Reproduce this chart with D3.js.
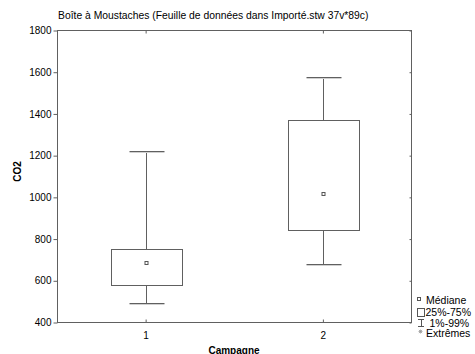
<!DOCTYPE html>
<html>
<head>
<meta charset="utf-8">
<script src="https://cdn.jsdelivr.net/npm/d3@7"></script>
<style>
  html, body { margin: 0; padding: 0; background: #fff; }
  svg { display: block; font-family: "Liberation Sans", Arial, sans-serif; }
</style>
</head>
<body>
<svg id="chart" width="475" height="354"></svg>
<script>
// Box plot summary per campaign
const campagnes = [1, 2];
const whiskerLow = [492, 679];
const q1 = [578, 842];
const medianes = [684, 1015];
const q3 = [751, 1369];
const whiskerHigh = [1221, 1578];
const yTicks = [400, 600, 800, 1000, 1200, 1400, 1600, 1800];

const titre = "Boîte à Moustaches (Feuille de données dans Importé.stw 37v*89c)";
const legendLabels = ["Médiane", "25%-75%", "1%-99%", "Extrêmes"];

const svg = d3.select("#chart");
const L = 57, R = 411.5, T = 30.5, B = 322.5;
const stroke = "#606060";

const x = d3.scaleLinear().domain([0.5, 2.5]).range([L, R]);
const y = d3.scaleLinear().domain([400, 1800]).range([B, T]);

// Title
svg.append("text").attr("x", 58).attr("y", 18.5)
  .attr("font-size", 10.35).attr("fill", "#000").text(titre);

// Frame
svg.append("rect").attr("x", L + 0.5).attr("y", T).attr("width", R - L - 0.5).attr("height", B - T)
  .attr("fill", "none").attr("stroke", stroke).attr("stroke-width", 1);

// Left axis (outward ticks)
const yAxis = d3.axisLeft(y).tickValues(yTicks).tickSize(4).tickPadding(2).tickFormat(d3.format("d"));
const gy = svg.append("g").attr("transform", `translate(${L + 0.5},0)`).call(yAxis);
gy.select(".domain").remove();
gy.selectAll("line").attr("stroke", stroke);
gy.selectAll("text").attr("font-size", 10).attr("fill", "#000")
  .attr("font-family", "Liberation Sans, Arial, sans-serif");

// Right axis (inward ticks)
const gyr = svg.append("g").attr("transform", `translate(${R},0)`)
  .call(d3.axisRight(y).tickValues(yTicks).tickSize(-2).tickFormat(""));
gyr.select(".domain").remove();
gyr.selectAll("line").attr("stroke", stroke);

// Bottom axis (inward ticks)
const xAxis = d3.axisBottom(x).tickValues(campagnes).tickSize(-3).tickPadding(9).tickFormat(d3.format("d"));
const gx = svg.append("g").attr("transform", `translate(0,${B})`).call(xAxis);
gx.select(".domain").remove();
gx.selectAll("line").attr("stroke", stroke);
gx.selectAll("text").attr("font-size", 10).attr("fill", "#000")
  .attr("font-family", "Liberation Sans, Arial, sans-serif");

// Top axis (inward ticks)
const gxt = svg.append("g").attr("transform", `translate(0,${T})`)
  .call(d3.axisTop(x).tickValues(campagnes).tickSize(-3).tickFormat(""));
gxt.select(".domain").remove();
gxt.selectAll("line").attr("stroke", stroke);

// Axis titles
svg.append("text").attr("transform", "translate(21,171.5) rotate(-90)")
  .attr("text-anchor", "middle").attr("font-size", 10).attr("font-weight", "bold").text("CO2");
svg.append("text").attr("x", 234).attr("y", 353.5)
  .attr("text-anchor", "middle").attr("font-size", 10).attr("font-weight", "bold").text("Campagne");

// Boxes
const unit = x(2) - x(1);
const boxW = unit * 0.4, capW = unit * 0.2;
const snap = v => Math.round(v) + 0.5;

campagnes.forEach((c, i) => {
  const cx = snap(x(c));
  const g = svg.append("g").attr("stroke", stroke).attr("fill", "none");
  // whisker stems
  g.append("line").attr("x1", cx).attr("x2", cx).attr("y1", snap(y(whiskerHigh[i]))).attr("y2", snap(y(q3[i])));
  g.append("line").attr("x1", cx).attr("x2", cx).attr("y1", snap(y(q1[i]))).attr("y2", snap(y(whiskerLow[i])));
  // caps
  [whiskerHigh[i], whiskerLow[i]].forEach(v => {
    g.append("line").attr("x1", snap(cx - capW / 2)).attr("x2", snap(cx + capW / 2))
      .attr("y1", snap(y(v))).attr("y2", snap(y(v)));
    g.append("line").attr("x1", snap(cx - capW / 2)).attr("x2", snap(cx + capW / 2))
      .attr("y1", snap(y(v)) + 1).attr("y2", snap(y(v)) + 1).attr("stroke", "#d0d0d0");
  });
  // box
  const top = snap(y(q3[i])), bot = snap(y(q1[i]));
  g.append("rect").attr("x", snap(cx - boxW / 2)).attr("y", top)
    .attr("width", Math.round(boxW)).attr("height", bot - top);
  // median marker
  const my = snap(y(medianes[i]));
  g.append("rect").attr("x", cx - 1.5).attr("y", my - 2).attr("width", 3).attr("height", 3)
    .attr("stroke", "#555").attr("fill", "#fff");
});

// Legend
const lg = svg.append("g").attr("font-size", 10.5).attr("fill", "#000");
const ys = [303.5, 316, 326.5, 337];
// median symbol
lg.append("rect").attr("x", 417.5).attr("y", 297.5).attr("width", 3).attr("height", 3)
  .attr("fill", "#fff").attr("stroke", "#555");
lg.append("text").attr("x", 426).attr("y", ys[0]).text(legendLabels[0]);
// box symbol
lg.append("rect").attr("x", 417.5).attr("y", 308.5).attr("width", 7).attr("height", 8)
  .attr("fill", "#fff").attr("stroke", "#555");
lg.append("text").attr("x", 425.5).attr("y", ys[1]).text(legendLabels[1]);
// whisker symbol
const wg = lg.append("g").attr("stroke", "#555");
wg.append("line").attr("x1", 418).attr("x2", 424).attr("y1", 319.5).attr("y2", 319.5);
wg.append("line").attr("x1", 421.5).attr("x2", 421.5).attr("y1", 319.5).attr("y2", 326.5);
wg.append("line").attr("x1", 418).attr("x2", 424).attr("y1", 326.5).attr("y2", 326.5);
lg.append("text").attr("x", 429.5).attr("y", ys[2]).text(legendLabels[2]);
// extremes symbol: small star
const sg = lg.append("g").attr("stroke", "#999").attr("stroke-width", 0.8);
const sx = 420.5, sy = 331.5;
sg.append("line").attr("x1", sx - 2).attr("x2", sx + 2).attr("y1", sy).attr("y2", sy);
sg.append("line").attr("x1", sx).attr("x2", sx).attr("y1", sy - 2).attr("y2", sy + 2);
sg.append("line").attr("x1", sx - 1.6).attr("x2", sx + 1.6).attr("y1", sy - 1.6).attr("y2", sy + 1.6);
sg.append("line").attr("x1", sx - 1.6).attr("x2", sx + 1.6).attr("y1", sy + 1.6).attr("y2", sy - 1.6);
lg.append("text").attr("x", 426).attr("y", ys[3]).text(legendLabels[3]);
</script>
</body>
</html>
